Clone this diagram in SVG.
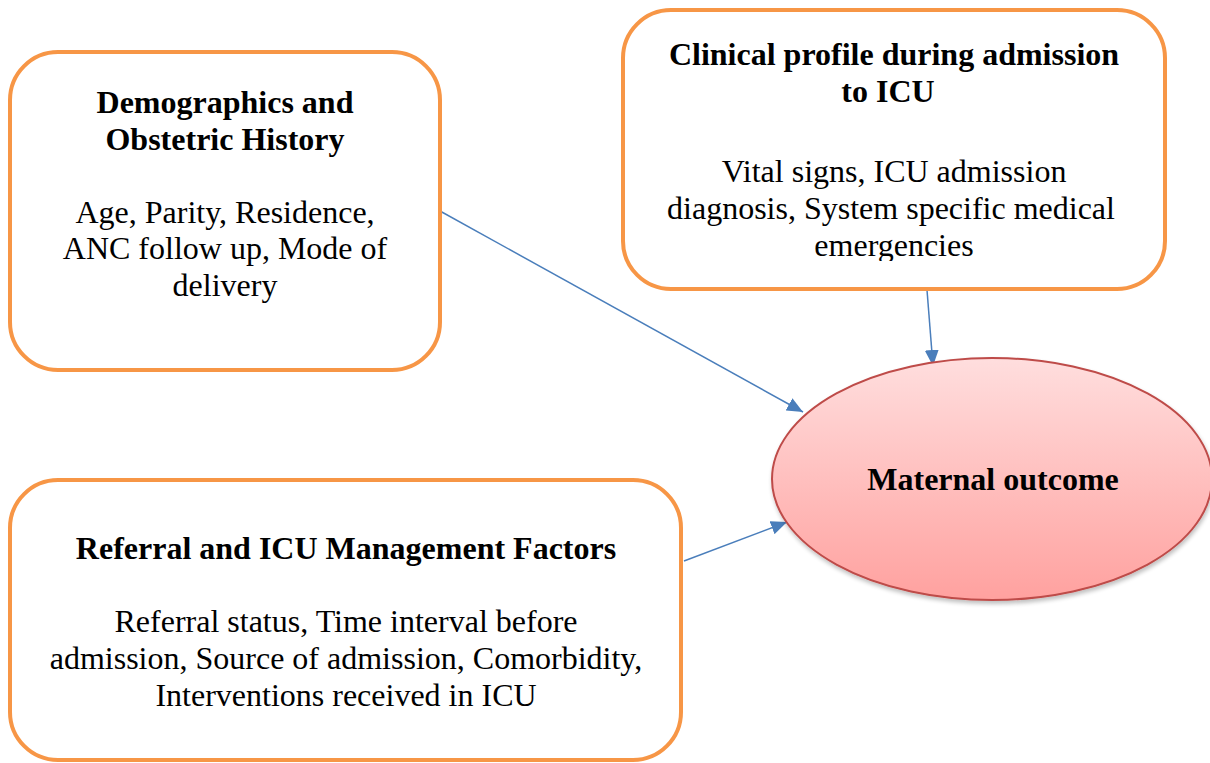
<svg xmlns="http://www.w3.org/2000/svg" width="1210" height="763" viewBox="0 0 1210 763">
<style>
.box{fill:#fff;stroke:#F79646;stroke-width:4}
.t{font-family:"Liberation Serif","Times New Roman",serif;font-size:32px;fill:#000;text-anchor:middle}
.b{font-weight:bold}
.c{stroke:#4A7EBB;stroke-width:1.5;fill:none;marker-end:url(#ah)}
</style>
<defs>
<marker id="ah" markerUnits="userSpaceOnUse" markerWidth="18" markerHeight="14" refX="16" refY="7" orient="auto">
<path d="M0,0 L16,7 L0,14 z" fill="#4A7EBB"/>
</marker>
<linearGradient id="eg" x1="0" y1="0" x2="0" y2="1">
<stop offset="0" stop-color="#FFDEDE"/>
<stop offset="1" stop-color="#FFA19F"/>
</linearGradient>
<filter id="sh" x="-10%" y="-10%" width="120%" height="130%">
<feGaussianBlur in="SourceAlpha" stdDeviation="2"/>
<feOffset dx="1" dy="3"/>
<feComponentTransfer><feFuncA type="linear" slope="0.25"/></feComponentTransfer>
<feMerge><feMergeNode/><feMergeNode in="SourceGraphic"/></feMerge>
</filter>
<clipPath id="clipTR"><rect x="623" y="9" width="542" height="252"/></clipPath>
</defs>
<g id="connectors">
<line class="c" x1="440" y1="211" x2="803" y2="412"/>
<line class="c" x1="927" y1="290" x2="933" y2="366"/>
<line class="c" x1="684" y1="561" x2="787" y2="522"/>
</g>
<g id="demographics">
<rect class="box" x="10" y="52" width="430" height="318" rx="48"/>
<text class="t b" x="225" y="113">Demographics and</text>
<text class="t b" x="225" y="150">Obstetric History</text>
<text class="t" x="225" y="223">Age, Parity, Residence,</text>
<text class="t" x="225" y="259">ANC follow up, Mode of</text>
<text class="t" x="225" y="296">delivery</text>
</g>
<g id="clinical">
<rect class="box" x="623" y="10" width="542" height="279" rx="48"/>
<text class="t b" x="894" y="65">Clinical profile during admission</text>
<text class="t b" x="888" y="102">to ICU</text>
<g clip-path="url(#clipTR)">
<text class="t" x="894" y="182">Vital signs, ICU admission</text>
<text class="t" x="891" y="219">diagnosis, System specific medical</text>
<text class="t" x="894" y="256">emergencies</text>
</g>
</g>
<g id="referral">
<rect class="box" x="10" y="480" width="671" height="280" rx="48"/>
<text class="t b" x="346" y="559">Referral and ICU Management Factors</text>
<text class="t" x="346" y="632">Referral status, Time interval before</text>
<text class="t" x="346" y="669">admission, Source of admission, Comorbidity,</text>
<text class="t" x="346" y="706">Interventions received in ICU</text>
</g>
<g id="outcome">
<ellipse cx="992" cy="479" rx="220" ry="121" fill="url(#eg)" stroke="#BE4B48" stroke-width="2" filter="url(#sh)"/>
<text class="t b" x="993" y="490">Maternal outcome</text>
</g>
</svg>
